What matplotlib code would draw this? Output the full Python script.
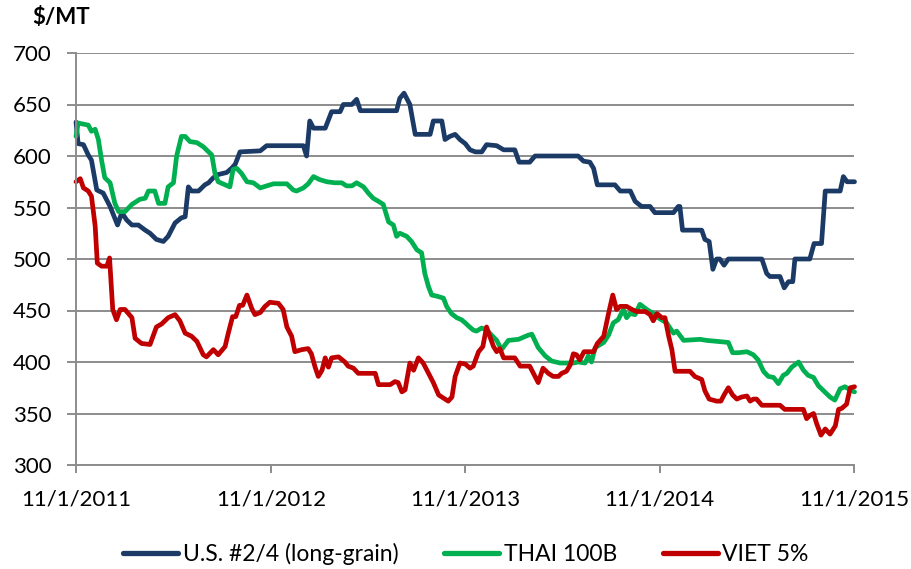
import matplotlib
matplotlib.use("Agg")
import matplotlib.pyplot as plt
import pandas as pd

# U.S. #2/4 (long-grain)
us_dates = [
    "2011-11-01", "2011-11-05", "2011-11-15", "2011-11-24", "2011-11-30", "2011-12-10",
    "2011-12-22", "2012-01-04", "2012-01-18", "2012-01-26", "2012-02-04", "2012-02-14",
    "2012-02-26", "2012-03-10", "2012-03-19", "2012-03-31", "2012-04-13", "2012-04-22",
    "2012-05-05", "2012-05-17", "2012-05-24", "2012-05-30", "2012-06-05", "2012-06-18",
    "2012-06-30", "2012-07-07", "2012-07-16", "2012-07-25", "2012-08-10", "2012-08-19",
    "2012-08-26", "2012-09-04", "2012-10-12", "2012-10-24", "2013-01-01", "2013-01-07",
    "2013-01-13", "2013-01-20", "2013-02-11", "2013-02-23", "2013-03-11", "2013-03-17",
    "2013-04-02", "2013-04-11", "2013-04-18", "2013-06-25", "2013-07-01", "2013-07-09",
    "2013-07-20", "2013-07-30", "2013-08-27", "2013-09-02", "2013-09-18", "2013-09-24",
    "2013-10-03", "2013-10-13", "2013-10-22", "2013-11-01", "2013-11-10", "2013-11-20",
    "2013-12-02", "2013-12-11", "2013-12-30", "2014-01-12", "2014-02-02", "2014-02-10",
    "2014-03-02", "2014-03-12", "2014-06-01", "2014-06-11", "2014-06-23", "2014-06-30",
    "2014-07-07", "2014-08-09", "2014-08-19", "2014-09-07", "2014-09-16", "2014-09-28",
    "2014-10-14", "2014-10-23", "2014-11-27", "2014-12-06", "2014-12-09", "2014-12-14",
    "2015-01-19", "2015-01-25", "2015-02-02", "2015-02-09", "2015-02-16", "2015-02-22",
    "2015-03-02", "2015-03-10", "2015-05-12", "2015-05-21", "2015-05-27", "2015-06-15",
    "2015-06-23", "2015-07-01", "2015-07-09", "2015-07-13", "2015-08-10", "2015-08-18",
    "2015-09-01", "2015-09-08", "2015-10-06", "2015-10-12", "2015-10-19", "2015-11-02",
]
us_values = [
    633, 612, 611, 601, 596, 567,
    564, 551, 533, 545, 538, 533,
    533, 528, 525, 519, 517, 522,
    535, 540, 541, 570, 566, 566,
    572, 574, 579, 582, 584, 588,
    592, 604, 605, 610, 610, 600,
    634, 627, 627, 643, 643, 650,
    650, 655, 644, 644, 656, 661,
    650, 621, 621, 634, 634, 616,
    619, 621, 616, 612, 606, 604,
    604, 611, 610, 606, 606, 594,
    594, 600, 600, 595, 594, 588,
    572, 572, 566, 566, 556, 551,
    551, 545, 545, 551, 551, 528,
    528, 519, 517, 490, 500, 500,
    494, 500, 500, 486, 483, 483,
    472, 478, 478, 500, 500, 515,
    515, 566, 566, 580, 575, 575,
]

# THAI 100B
thai_dates = [
    "2011-11-01", "2011-11-05", "2011-11-24", "2011-11-30", "2011-12-07", "2011-12-13",
    "2011-12-19", "2011-12-25", "2012-01-04", "2012-01-13", "2012-01-20", "2012-02-01",
    "2012-02-14", "2012-02-29", "2012-03-10", "2012-03-16", "2012-03-28", "2012-04-04",
    "2012-04-16", "2012-04-22", "2012-05-02", "2012-05-08", "2012-05-17", "2012-05-24",
    "2012-06-02", "2012-06-15", "2012-06-27", "2012-07-07", "2012-07-13", "2012-07-19",
    "2012-07-25", "2012-08-07", "2012-08-16", "2012-08-22", "2012-08-29", "2012-09-07",
    "2012-09-17", "2012-09-29", "2012-10-12", "2012-10-24", "2012-11-06", "2012-12-01",
    "2012-12-13", "2012-12-19", "2013-01-01", "2013-01-10", "2013-01-20", "2013-02-01",
    "2013-02-14", "2013-03-01", "2013-03-14", "2013-03-23", "2013-04-02", "2013-04-11",
    "2013-04-24", "2013-05-03", "2013-05-12", "2013-05-22", "2013-05-31", "2013-06-10",
    "2013-06-19", "2013-06-25", "2013-07-01", "2013-07-14", "2013-07-23", "2013-08-02",
    "2013-08-11", "2013-08-17", "2013-08-24", "2013-08-30", "2013-09-08", "2013-09-21",
    "2013-09-27", "2013-10-06", "2013-10-16", "2013-10-25", "2013-11-01", "2013-11-07",
    "2013-11-16", "2013-11-22", "2013-12-02", "2013-12-11", "2013-12-30", "2014-01-08",
    "2014-01-21", "2014-02-09", "2014-02-27", "2014-03-06", "2014-03-18", "2014-03-31",
    "2014-04-12", "2014-04-28", "2014-05-23", "2014-06-01", "2014-06-14", "2014-06-20",
    "2014-06-26", "2014-07-03", "2014-07-19", "2014-07-28", "2014-08-06", "2014-08-15",
    "2014-08-25", "2014-08-31", "2014-09-06", "2014-09-16", "2014-09-25", "2014-10-08",
    "2014-10-20", "2014-10-26", "2014-11-14", "2014-11-27", "2014-12-03", "2014-12-16",
    "2015-01-16", "2015-01-28", "2015-03-10", "2015-03-18", "2015-03-29", "2015-04-14",
    "2015-04-26", "2015-05-05", "2015-05-15", "2015-05-24", "2015-06-03", "2015-06-12",
    "2015-06-21", "2015-06-28", "2015-07-07", "2015-07-20", "2015-07-29", "2015-08-07",
    "2015-08-17", "2015-08-26", "2015-09-05", "2015-09-17", "2015-09-26", "2015-10-06",
    "2015-10-15", "2015-10-28", "2015-11-02",
]
thai_values = [
    619, 632, 630, 624, 626, 616,
    596, 579, 574, 554, 546, 546,
    553, 558, 559, 566, 566, 554,
    554, 570, 574, 600, 619, 619,
    614, 613, 609, 604, 601, 583,
    575, 572, 570, 587, 588, 583,
    575, 574, 569, 571, 573, 573,
    567, 566, 569, 573, 580, 577,
    575, 574, 574, 571, 571, 574,
    570, 564, 559, 556, 553, 536,
    533, 522, 525, 522, 517, 509,
    506, 486, 473, 465, 464, 462,
    454, 447, 443, 441, 438, 435,
    431, 430, 433, 431, 421, 412,
    421, 422, 426, 427, 414, 406,
    401, 399, 399, 400, 399, 406,
    400, 414, 419, 426, 438, 441,
    451, 443, 447, 446, 456, 451,
    447, 444, 438, 428, 430, 421,
    422, 421, 419, 409, 409, 410,
    407, 402, 391, 386, 385, 379,
    387, 389, 395, 400, 392, 387,
    385, 377, 372, 366, 363, 374,
    376, 372, 371,
]

# VIET 5%
viet_dates = [
    "2011-11-01", "2011-11-09", "2011-11-15", "2011-11-24", "2011-11-30", "2011-12-07",
    "2011-12-11", "2011-12-19", "2011-12-29", "2012-01-03", "2012-01-09", "2012-01-16",
    "2012-01-23", "2012-02-01", "2012-02-14", "2012-02-20", "2012-03-03", "2012-03-19",
    "2012-03-31", "2012-04-10", "2012-04-22", "2012-05-05", "2012-05-14", "2012-05-24",
    "2012-06-05", "2012-06-15", "2012-06-27", "2012-07-03", "2012-07-16", "2012-07-25",
    "2012-08-07", "2012-08-13", "2012-08-21", "2012-08-27", "2012-09-03", "2012-09-09",
    "2012-09-17", "2012-09-26", "2012-10-02", "2012-10-12", "2012-10-21", "2012-10-30",
    "2012-11-15", "2012-11-24", "2012-12-01", "2012-12-10", "2012-12-16", "2012-12-29",
    "2013-01-10", "2013-01-16", "2013-01-23", "2013-01-29", "2013-02-05", "2013-02-11",
    "2013-02-17", "2013-02-23", "2013-03-08", "2013-03-20", "2013-03-26", "2013-04-05",
    "2013-04-14", "2013-05-16", "2013-05-22", "2013-06-13", "2013-06-22", "2013-06-28",
    "2013-07-05", "2013-07-11", "2013-07-20", "2013-07-27", "2013-08-05", "2013-08-14",
    "2013-08-24", "2013-09-02", "2013-09-12", "2013-09-21", "2013-09-30", "2013-10-07",
    "2013-10-13", "2013-10-22", "2013-11-01", "2013-11-10", "2013-11-16", "2013-11-26",
    "2013-12-04", "2013-12-11", "2013-12-17", "2013-12-24", "2013-12-30", "2014-01-05",
    "2014-01-12", "2014-02-02", "2014-02-12", "2014-03-02", "2014-03-12", "2014-03-18",
    "2014-03-27", "2014-04-06", "2014-04-15", "2014-04-25", "2014-05-01", "2014-05-10",
    "2014-05-17", "2014-05-23", "2014-05-29", "2014-06-04", "2014-06-12", "2014-06-30",
    "2014-07-07", "2014-07-19", "2014-07-28", "2014-08-05", "2014-08-12", "2014-08-19",
    "2014-08-31", "2014-09-10", "2014-09-19", "2014-10-05", "2014-10-14", "2014-10-20",
    "2014-10-27", "2014-11-05", "2014-11-11", "2014-11-18", "2014-11-24", "2014-11-30",
    "2014-12-28", "2015-01-06", "2015-01-19", "2015-01-25", "2015-02-02", "2015-02-16",
    "2015-02-24", "2015-03-02", "2015-03-10", "2015-03-18", "2015-03-26", "2015-04-04",
    "2015-04-14", "2015-04-20", "2015-04-26", "2015-05-02", "2015-05-12", "2015-06-15",
    "2015-06-24", "2015-07-29", "2015-08-04", "2015-08-10", "2015-08-17", "2015-08-23",
    "2015-08-31", "2015-09-08", "2015-09-17", "2015-09-27", "2015-10-03", "2015-10-09",
    "2015-10-18", "2015-10-25", "2015-11-02",
]
viet_values = [
    575, 578, 569, 566, 561, 532,
    496, 493, 493, 501, 451, 441,
    451, 451, 443, 423, 418, 417,
    434, 437, 443, 446, 440, 428,
    425, 420, 407, 405, 412, 407,
    415, 428, 444, 444, 455, 455,
    465, 452, 446, 448, 454, 458,
    457, 451, 434, 425, 410, 412,
    413, 408, 395, 386, 392, 404,
    395, 404, 405, 400, 396, 394,
    389, 389, 378, 378, 381, 380,
    371, 373, 399, 392, 404, 399,
    389, 380, 368, 365, 362, 366,
    386, 399, 398, 394, 396, 410,
    415, 434, 425, 415, 410, 413,
    404, 404, 396, 396, 386, 380,
    394, 389, 386, 386, 389, 391,
    397, 408, 407, 402, 410, 410,
    418, 425, 447, 465, 451, 454,
    454, 451, 449, 449, 446, 440,
    447, 443, 443, 425, 412, 391,
    391, 386, 383, 372, 364, 362,
    362, 368, 375, 368, 364, 366,
    367, 362, 364, 364, 358, 358,
    354, 354, 345, 348, 350, 340,
    329, 335, 330, 338, 354, 355,
    359, 375, 376,
]

series_names = ["U.S. #2/4 (long-grain)", "THAI 100B", "VIET 5%"]
series_colors = ["#1B3A66", "#00B050", "#C00000"]

tick_dates = ["2011-11-01", "2012-11-01", "2013-11-01", "2014-11-01", "2015-11-01"]
tick_labels = ["11/1/2011", "11/1/2012", "11/1/2013", "11/1/2014", "11/1/2015"]
y_ticks = [300, 350, 400, 450, 500, 550, 600, 650, 700]

plt.rcParams['font.family'] = ['Lato', 'DejaVu Sans']
grid_color = "#8C8C8C"

fig = plt.figure(figsize=(9.12, 5.69), dpi=100)
ax = fig.add_axes([76 / 912, 1 - 465 / 569, 778 / 912, 412 / 569])

all_series = [(us_dates, us_values), (thai_dates, thai_values), (viet_dates, viet_values)]
for (d, v), name, col in zip(all_series, series_names, series_colors):
    ax.plot(pd.to_datetime(d), v, color=col, lw=3.4, label=name, clip_on=False,
            solid_joinstyle='round', solid_capstyle='round')

ax.set_ylim(300, 700)
ax.set_yticks(y_ticks)
ax.set_xlim(pd.Timestamp(tick_dates[0]), pd.Timestamp(tick_dates[-1]))
ax.set_xticks(pd.to_datetime(tick_dates))
ax.set_xticklabels(tick_labels)

ax.grid(axis='y', color=grid_color, lw=1.4)
ax.set_axisbelow(True)
for s in ['top', 'right']:
    ax.spines[s].set_visible(False)
for s in ['left', 'bottom']:
    ax.spines[s].set_color(grid_color)
    ax.spines[s].set_linewidth(1.4)

ax.tick_params(axis='y', length=6.5, width=1.4, color=grid_color, pad=11, labelsize=16)
ax.tick_params(axis='x', length=6, width=1.4, color=grid_color, pad=12, labelsize=16)

fig.text(32 / 912, 1 - 18 / 569, "$/MT", fontsize=16, fontweight='bold', va='center', ha='left')

leg = fig.legend(loc='center', bbox_to_anchor=(466 / 912, 1 - 554 / 569), ncol=3, frameon=False,
                 fontsize=16.5, handlelength=2.4, handletextpad=0.2, columnspacing=2.0,
                 borderaxespad=0, borderpad=0)
for h in leg.get_lines():
    h.set_linewidth(3.8)

fig.savefig("out.png", dpi=100)
